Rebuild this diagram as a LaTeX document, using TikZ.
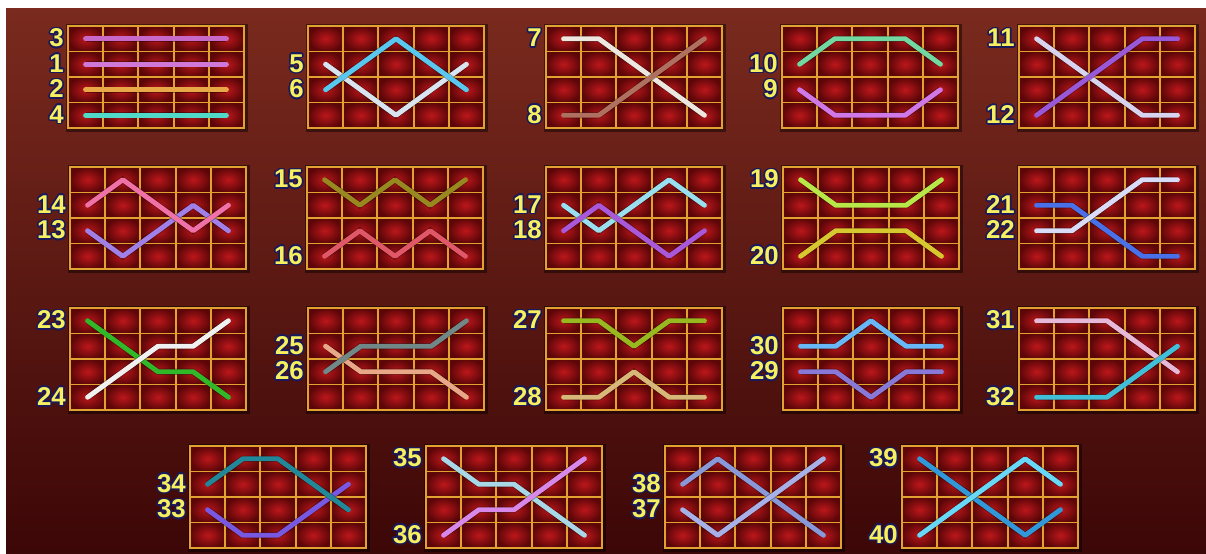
\documentclass[tikz,border=0pt]{standalone}
\usepackage{fontspec}
\setmainfont{Liberation Sans}
\usepackage{contour}
\contourlength{1.3pt}
\usetikzlibrary{positioning}

\definecolor{bgtop}{HTML}{7A2A1E}
\definecolor{bgmid}{HTML}{5E1511}
\definecolor{bgbot}{HTML}{3C0707}
\definecolor{cellhi}{HTML}{BC171B}
\definecolor{celllo}{HTML}{5C0608}
\definecolor{gold}{HTML}{E2A232}
\definecolor{lblyellow}{HTML}{F6F060}
\definecolor{lbledge}{HTML}{1A1A5A}
% payline colours
\definecolor{c1}{HTML}{D078D8}\definecolor{c2}{HTML}{E8A848}
\definecolor{c3}{HTML}{C868C8}\definecolor{c4}{HTML}{50D8C8}
\definecolor{c5}{HTML}{D8E4F0}\definecolor{c6}{HTML}{58C8F0}
\definecolor{c7}{HTML}{ECE8E0}\definecolor{c8}{HTML}{B07060}
\definecolor{c9}{HTML}{D078E8}\definecolor{c10}{HTML}{70D8A0}
\definecolor{c11}{HTML}{D8D4F0}\definecolor{c12}{HTML}{9858D8}
\definecolor{c13}{HTML}{A080E8}\definecolor{c14}{HTML}{F070A8}
\definecolor{c15}{HTML}{988820}\definecolor{c16}{HTML}{E05868}
\definecolor{c17}{HTML}{98E0F0}\definecolor{c18}{HTML}{A858D8}
\definecolor{c19}{HTML}{B8E848}\definecolor{c20}{HTML}{D8C830}
\definecolor{c21}{HTML}{D8DCF8}\definecolor{c22}{HTML}{4870E8}
\definecolor{c23}{HTML}{30B828}\definecolor{c24}{HTML}{F0F0F0}
\definecolor{c25}{HTML}{708888}\definecolor{c26}{HTML}{E8A888}
\definecolor{c27}{HTML}{98B820}\definecolor{c28}{HTML}{D8B878}
\definecolor{c29}{HTML}{8878D8}\definecolor{c30}{HTML}{68B8F8}
\definecolor{c31}{HTML}{E8B8D8}\definecolor{c32}{HTML}{40C0D8}
\definecolor{c33}{HTML}{7858E0}\definecolor{c34}{HTML}{208898}
\definecolor{c35}{HTML}{A8D8E8}\definecolor{c36}{HTML}{D888E8}
\definecolor{c37}{HTML}{A8B0E8}\definecolor{c38}{HTML}{8898D8}
\definecolor{c39}{HTML}{3098D8}\definecolor{c40}{HTML}{68D8F8}

\tikzset{
  gridline/.style={draw=gold, line width=1.6pt},
  frameline/.style={draw=gold, line width=2.4pt},
  payline/.style={line width=4.2pt, line cap=round, line join=round,
    preaction={draw=black, opacity=0.35, line width=5.4pt}},
  lbl/.style={inner sep=0pt, text=lblyellow,
    font=\fontsize{22}{22}\selectfont\bfseries}
}

% board: name, left, top (in pixels)
\newcommand{\payboard}[3]{%
  \fill[black, opacity=0.45] ({#2-2},{#3-2}) rectangle ({#2+180},{#3+106});
  \foreach \cx in {1,...,5}{
    \foreach \ry in {1,...,4}{
      \shade[inner color=cellhi, outer color=celllo]
        ({#2+(\cx-1)*35.2},{#3+(\ry-1)*25.5}) rectangle ++(35.2,25.5);
      \coordinate (#1-\cx-\ry) at ({#2+(\cx-0.5)*35.2},{#3+(\ry-0.5)*25.5});
    }
  }
  \foreach \cx in {1,...,4}
    \draw[gridline] ({#2+\cx*35.2},#3) -- ++(0,102);
  \foreach \ry in {1,2,3}
    \draw[gridline] (#2,{#3+\ry*25.5}) -- ++(176,0);
  \draw[frameline] (#2,#3) rectangle ++(176,102);
}
% line: board, colour, row in columns 1..5
\newcommand{\payline}[7]{%
  \draw[payline, draw=#2] (#1-1-#3) -- (#1-2-#4) -- (#1-3-#5) -- (#1-4-#6) -- (#1-5-#7);}
% label: board, row, number
\newcommand{\paynum}[3]{%
  \node[lbl, left=0.65cm of #1-1-#2] (L#3) {\contour{lbledge}{#3}};}

\begin{document}
\begin{tikzpicture}[x=0.03cm, y=-0.03cm]
  \useasboundingbox (0,0) rectangle (1206,553);
  % background
  \fill[white] (0,0) rectangle (1206,553);
  \shade[top color=bgtop, middle color=bgmid, bottom color=bgbot] (6,8) rectangle (1206,553);

  % row 1
  \payboard{P1}{68}{26}
  \payline{P1}{c3}{1}{1}{1}{1}{1}
  \payline{P1}{c1}{2}{2}{2}{2}{2}
  \payline{P1}{c2}{3}{3}{3}{3}{3}
  \payline{P1}{c4}{4}{4}{4}{4}{4}
  \paynum{P1}{1}{3}
  \paynum{P1}{2}{1}
  \paynum{P1}{3}{2}
  \paynum{P1}{4}{4}

  \payboard{P2}{308}{26}
  \payline{P2}{c5}{2}{3}{4}{3}{2}
  \payline{P2}{c6}{3}{2}{1}{2}{3}
  \paynum{P2}{2}{5}
  \paynum{P2}{3}{6}

  \payboard{P3}{546}{26}
  \payline{P3}{c7}{1}{1}{2}{3}{4}
  \payline{P3}{c8}{4}{4}{3}{2}{1}
  \paynum{P3}{1}{7}
  \paynum{P3}{4}{8}

  \payboard{P4}{782}{26}
  \payline{P4}{c10}{2}{1}{1}{1}{2}
  \payline{P4}{c9}{3}{4}{4}{4}{3}
  \paynum{P4}{2}{10}
  \paynum{P4}{3}{9}

  \payboard{P5}{1019}{26}
  \payline{P5}{c11}{1}{2}{3}{4}{4}
  \payline{P5}{c12}{4}{3}{2}{1}{1}
  \paynum{P5}{1}{11}
  \paynum{P5}{4}{12}

  % row 2
  \payboard{P6}{70}{167}
  \payline{P6}{c13}{3}{4}{3}{2}{3}
  \payline{P6}{c14}{2}{1}{2}{3}{2}
  \paynum{P6}{2}{14}
  \paynum{P6}{3}{13}

  \payboard{P7}{307}{167}
  \payline{P7}{c15}{1}{2}{1}{2}{1}
  \payline{P7}{c16}{4}{3}{4}{3}{4}
  \paynum{P7}{1}{15}
  \paynum{P7}{4}{16}

  \payboard{P8}{546}{167}
  \payline{P8}{c17}{2}{3}{2}{1}{2}
  \payline{P8}{c18}{3}{2}{3}{4}{3}
  \paynum{P8}{2}{17}
  \paynum{P8}{3}{18}

  \payboard{P9}{783}{167}
  \payline{P9}{c19}{1}{2}{2}{2}{1}
  \payline{P9}{c20}{4}{3}{3}{3}{4}
  \paynum{P9}{1}{19}
  \paynum{P9}{4}{20}

  \payboard{P10}{1019}{167}
  \payline{P10}{c22}{2}{2}{3}{4}{4}
  \payline{P10}{c21}{3}{3}{2}{1}{1}
  \paynum{P10}{2}{21}
  \paynum{P10}{3}{22}

  % row 3
  \payboard{P11}{70}{308}
  \payline{P11}{c23}{1}{2}{3}{3}{4}
  \payline{P11}{c24}{4}{3}{2}{2}{1}
  \paynum{P11}{1}{23}
  \paynum{P11}{4}{24}

  \payboard{P12}{308}{308}
  \payline{P12}{c26}{2}{3}{3}{3}{4}
  \payline{P12}{c25}{3}{2}{2}{2}{1}
  \paynum{P12}{2}{25}
  \paynum{P12}{3}{26}

  \payboard{P13}{546}{308}
  \payline{P13}{c27}{1}{1}{2}{1}{1}
  \payline{P13}{c28}{4}{4}{3}{4}{4}
  \paynum{P13}{1}{27}
  \paynum{P13}{4}{28}

  \payboard{P14}{783}{308}
  \payline{P14}{c30}{2}{2}{1}{2}{2}
  \payline{P14}{c29}{3}{3}{4}{3}{3}
  \paynum{P14}{2}{30}
  \paynum{P14}{3}{29}

  \payboard{P15}{1019}{308}
  \payline{P15}{c31}{1}{1}{1}{2}{3}
  \payline{P15}{c32}{4}{4}{4}{3}{2}
  \paynum{P15}{1}{31}
  \paynum{P15}{4}{32}

  % row 4
  \payboard{P16}{190}{446}
  \payline{P16}{c33}{3}{4}{4}{3}{2}
  \payline{P16}{c34}{2}{1}{1}{2}{3}
  \paynum{P16}{2}{34}
  \paynum{P16}{3}{33}

  \payboard{P17}{426}{446}
  \payline{P17}{c35}{1}{2}{2}{3}{4}
  \payline{P17}{c36}{4}{3}{3}{2}{1}
  \paynum{P17}{1}{35}
  \paynum{P17}{4}{36}

  \payboard{P18}{665}{446}
  \payline{P18}{c38}{2}{1}{2}{3}{4}
  \payline{P18}{c37}{3}{4}{3}{2}{1}
  \paynum{P18}{2}{38}
  \paynum{P18}{3}{37}

  \payboard{P19}{902}{446}
  \payline{P19}{c39}{1}{2}{3}{4}{3}
  \payline{P19}{c40}{4}{3}{2}{1}{2}
  \paynum{P19}{1}{39}
  \paynum{P19}{4}{40}
\end{tikzpicture}
\end{document}
